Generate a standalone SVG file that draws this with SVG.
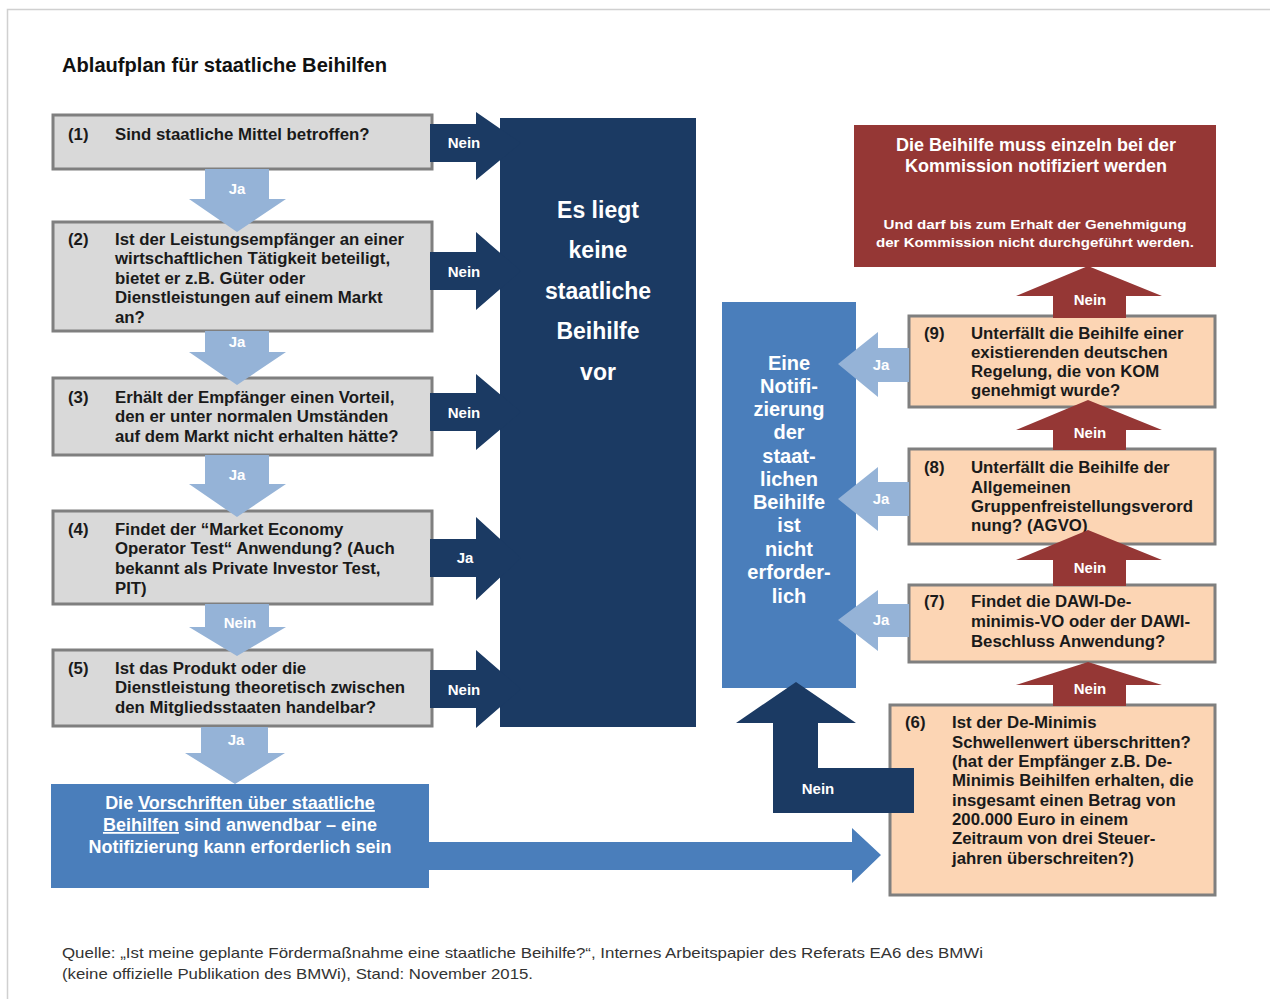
<svg xmlns="http://www.w3.org/2000/svg" width="1270" height="999" viewBox="0 0 1270 999">
<style>
text{font-family:"Liberation Sans",Arial,sans-serif}
.q{font-weight:bold;font-size:16.8px;fill:#1a1a1a}
.lbl{font-weight:bold;font-size:15px;fill:#fff;text-anchor:middle}
.gbox{fill:#d9d9d9;stroke:#7f7f7f;stroke-width:3}
.obox{fill:#fcd5b4;stroke:#7f7f7f;stroke-width:3}
.navy{fill:#1b3a63}
.lblue{fill:#95b3d7}
.mblue{fill:#4a7ebb}
.red{fill:#953735}
.wbig{font-weight:bold;font-size:23px;fill:#fff;text-anchor:middle}
.wmid{font-weight:bold;font-size:20px;fill:#fff;text-anchor:middle}
.w18{font-weight:bold;font-size:18px;fill:#fff;text-anchor:middle}
.foot{font-size:15px;fill:#333}
</style>
<rect width="1270" height="999" fill="#fff"/>
<path d="M7.5 999 V9.5 H1270" fill="none" stroke="#d0d0d0" stroke-width="1.5"/>
<text x="62" y="72" font-weight="bold" font-size="19.5" fill="#111" textLength="325" lengthAdjust="spacingAndGlyphs">Ablaufplan für staatliche Beihilfen</text>

<g id="box1">
<rect class="gbox" x="53" y="115" width="379" height="54"/>
<text class="q" x="68" y="140">(1)</text>
<text class="q" x="115" y="140">Sind staatliche Mittel betroffen?</text>
</g>
<g id="box2">
<rect class="gbox" x="53" y="222" width="379" height="109"/>
<text class="q" x="68" y="245">(2)</text>
<text class="q" x="115" y="245">Ist der Leistungsempfänger an einer</text>
<text class="q" x="115" y="264">wirtschaftlichen Tätigkeit beteiligt,</text>
<text class="q" x="115" y="284">bietet er z.B. Güter oder</text>
<text class="q" x="115" y="303">Dienstleistungen auf einem Markt</text>
<text class="q" x="115" y="323">an?</text>
</g>
<g id="box3">
<rect class="gbox" x="53" y="378" width="379" height="77"/>
<text class="q" x="68" y="403">(3)</text>
<text class="q" x="115" y="403">Erhält der Empfänger einen Vorteil,</text>
<text class="q" x="115" y="422">den er unter normalen Umständen</text>
<text class="q" x="115" y="442">auf dem Markt nicht erhalten hätte?</text>
</g>
<g id="box4">
<rect class="gbox" x="53" y="511" width="379" height="93"/>
<text class="q" x="68" y="535">(4)</text>
<text class="q" x="115" y="535">Findet der “Market Economy</text>
<text class="q" x="115" y="554">Operator Test“ Anwendung? (Auch</text>
<text class="q" x="115" y="574">bekannt als Private Investor Test,</text>
<text class="q" x="115" y="594">PIT)</text>
</g>
<g id="box5">
<rect class="gbox" x="53" y="650" width="379" height="76"/>
<text class="q" x="68" y="674">(5)</text>
<text class="q" x="115" y="674">Ist das Produkt oder die</text>
<text class="q" x="115" y="693">Dienstleistung theoretisch zwischen</text>
<text class="q" x="115" y="713">den Mitgliedsstaaten handelbar?</text>
</g>
<g id="noAid">
<rect class="navy" x="500" y="118" width="196" height="609"/>
<text class="wbig" x="598" y="218">Es liegt</text>
<text class="wbig" x="598" y="258">keine</text>
<text class="wbig" x="598" y="299">staatliche</text>
<text class="wbig" x="598" y="339">Beihilfe</text>
<text class="wbig" x="598" y="380">vor</text>
</g>
<g id="rulesApply">
<rect class="mblue" x="51" y="784" width="378" height="104"/>
<text class="w18" x="240" y="809">Die <tspan text-decoration="underline">Vorschriften über staatliche</tspan></text>
<text class="w18" x="240" y="831"><tspan text-decoration="underline">Beihilfen</tspan> sind anwendbar – eine</text>
<text class="w18" x="240" y="853">Notifizierung kann erforderlich sein</text>
</g>
<g id="notRequired">
<rect class="mblue" x="722" y="302" width="134" height="386"/>
<text class="wmid" x="789" y="370">Eine</text>
<text class="wmid" x="789" y="393">Notifi-</text>
<text class="wmid" x="789" y="416">zierung</text>
<text class="wmid" x="789" y="439">der</text>
<text class="wmid" x="789" y="463">staat-</text>
<text class="wmid" x="789" y="486">lichen</text>
<text class="wmid" x="789" y="509">Beihilfe</text>
<text class="wmid" x="789" y="532">ist</text>
<text class="wmid" x="789" y="556">nicht</text>
<text class="wmid" x="789" y="579">erforder-</text>
<text class="wmid" x="789" y="603">lich</text>
</g>
<g id="mustNotify">
<rect class="red" x="854" y="125" width="362" height="142"/>
<text class="w18" x="1036" y="151">Die Beihilfe muss einzeln bei der</text>
<text class="w18" x="1036" y="172">Kommission notifiziert werden</text>
<text x="1035" y="229" font-weight="bold" font-size="13.5" fill="#fff" text-anchor="middle" textLength="303" lengthAdjust="spacingAndGlyphs">Und darf bis zum Erhalt der Genehmigung</text>
<text x="1035" y="247" font-weight="bold" font-size="13.5" fill="#fff" text-anchor="middle" textLength="318" lengthAdjust="spacingAndGlyphs">der Kommission nicht durchgeführt werden.</text>
</g>
<g id="box9">
<rect class="obox" x="909" y="316" width="306" height="91"/>
<text class="q" x="924" y="339">(9)</text>
<text class="q" x="971" y="339">Unterfällt die Beihilfe einer</text>
<text class="q" x="971" y="358">existierenden deutschen</text>
<text class="q" x="971" y="377">Regelung, die von KOM</text>
<text class="q" x="971" y="396">genehmigt wurde?</text>
</g>
<g id="box8">
<rect class="obox" x="909" y="449" width="306" height="95"/>
<text class="q" x="924" y="473">(8)</text>
<text class="q" x="971" y="473">Unterfällt die Beihilfe der</text>
<text class="q" x="971" y="493">Allgemeinen</text>
<text class="q" x="971" y="512">Gruppenfreistellungsverord</text>
<text class="q" x="971" y="531">nung? (AGVO)</text>
</g>
<g id="box7">
<rect class="obox" x="909" y="585" width="306" height="77"/>
<text class="q" x="924" y="607">(7)</text>
<text class="q" x="971" y="607">Findet die DAWI-De-</text>
<text class="q" x="971" y="627">minimis-VO oder der DAWI-</text>
<text class="q" x="971" y="647">Beschluss Anwendung?</text>
</g>
<g id="box6">
<rect class="obox" x="890" y="705" width="325" height="190"/>
<text class="q" x="905" y="728">(6)</text>
<text class="q" x="952" y="728">Ist der De-Minimis</text>
<text class="q" x="952" y="748">Schwellenwert überschritten?</text>
<text class="q" x="952" y="767">(hat der Empfänger z.B. De-</text>
<text class="q" x="952" y="786">Minimis Beihilfen erhalten, die</text>
<text class="q" x="952" y="806">insgesamt einen Betrag von</text>
<text class="q" x="952" y="825">200.000 Euro in einem</text>
<text class="q" x="952" y="844">Zeitraum von drei Steuer-</text>
<text class="q" x="952" y="864">jahren überschreiten?)</text>
</g>

<g id="connectors">
<path class="lblue" d="M205 169 H269 V199 H286 L237 232 L189 199 H205 Z"/>
<text class="lbl" x="237" y="194">Ja</text>
<path class="lblue" d="M205 331 H269 V352 H286 L237 385 L189 352 H205 Z"/>
<text class="lbl" x="237" y="347">Ja</text>
<path class="lblue" d="M205 455 H269 V484 H286 L237 517 L189 484 H205 Z"/>
<text class="lbl" x="237" y="480">Ja</text>
<path class="lblue" d="M205 604 H269 V627 H286 L237 656 L189 627 H205 Z"/>
<text class="lbl" x="240" y="628">Nein</text>
<path class="lblue" d="M201 727 H268 V753 H285 L235 784 L185 753 H201 Z"/>
<text class="lbl" x="236" y="745">Ja</text>
<path class="navy" d="M430 124 H476 V112 L521 143 L476 180 V162 H430 Z"/>
<text class="lbl" x="464" y="148">Nein</text>
<path class="navy" d="M430 252 H476 V232 L521 271 L476 310 V290 H430 Z"/>
<text class="lbl" x="464" y="277">Nein</text>
<path class="navy" d="M430 393 H476 V374 L521 412 L476 450 V431 H430 Z"/>
<text class="lbl" x="464" y="418">Nein</text>
<path class="navy" d="M430 539 H476 V517 L521 558 L476 600 V577 H430 Z"/>
<text class="lbl" x="465" y="563">Ja</text>
<path class="navy" d="M430 670 H476 V650 L521 689 L476 728 V708 H430 Z"/>
<text class="lbl" x="464" y="695">Nein</text>
<path class="mblue" d="M429 842 H852 V828 L881 855 L852 883 V870 H429 Z"/>
<path class="navy" d="M914 768 V813 H773 V723 H736 L796 682 L856 723 H818 V768 Z"/>
<text class="lbl" x="818" y="794">Nein</text>
<path class="red" d="M1053 318 V296 H1016 L1088 266 L1162 296 H1126 V318 Z"/>
<text class="lbl" x="1090" y="305">Nein</text>
<path class="red" d="M1053 450 V430 H1016 L1088 400 L1162 430 H1126 V450 Z"/>
<text class="lbl" x="1090" y="438">Nein</text>
<path class="red" d="M1053 586 V560 H1016 L1088 530 L1162 560 H1126 V586 Z"/>
<text class="lbl" x="1090" y="573">Nein</text>
<path class="red" d="M1053 706 V685 H1016 L1088 662 L1162 685 H1126 V706 Z"/>
<text class="lbl" x="1090" y="694">Nein</text>
<path class="lblue" d="M909 348 V382 H878 V397 L838 364 L878 332 V348 Z"/>
<text class="lbl" x="881" y="370">Ja</text>
<path class="lblue" d="M909 482 V516 H878 V531 L838 499 L878 467 V482 Z"/>
<text class="lbl" x="881" y="504">Ja</text>
<path class="lblue" d="M909 604 V637 H878 V651 L838 620 L878 590 V604 Z"/>
<text class="lbl" x="881" y="625">Ja</text>
</g>

<text class="foot" x="62" y="958" textLength="921" lengthAdjust="spacingAndGlyphs">Quelle: „Ist meine geplante Fördermaßnahme eine staatliche Beihilfe?“, Internes Arbeitspapier des Referats EA6 des BMWi</text>
<text class="foot" x="62" y="979" textLength="471" lengthAdjust="spacingAndGlyphs">(keine offizielle Publikation des BMWi), Stand: November 2015.</text>
</svg>
